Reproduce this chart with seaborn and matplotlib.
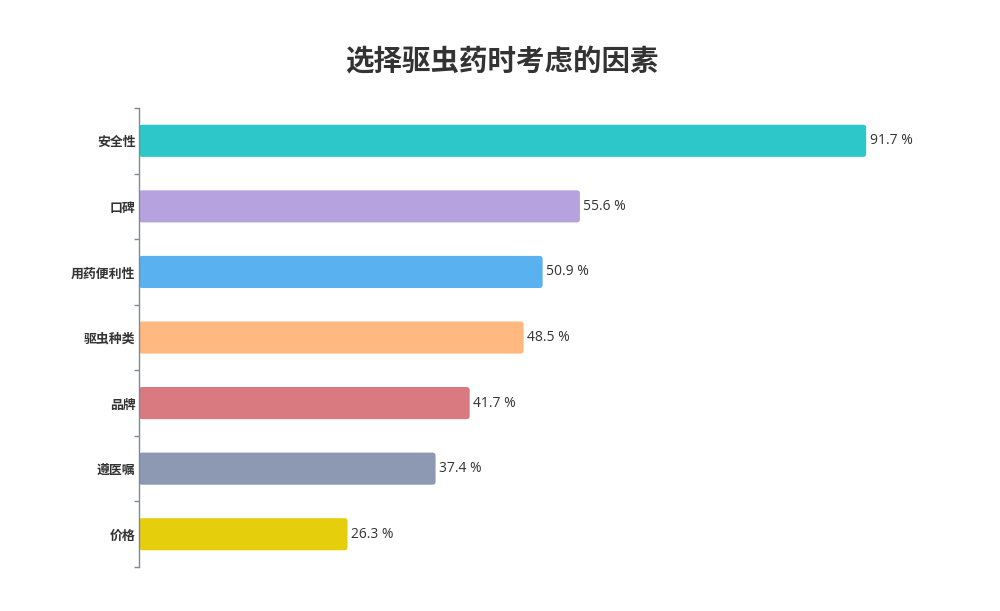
import matplotlib
matplotlib.use("Agg")
import matplotlib.pyplot as plt
import seaborn as sns
import pandas as pd
from matplotlib.patches import FancyBboxPatch

categories = ["安全性", "口碑", "用药便利性", "驱虫种类", "品牌", "遵医嘱", "价格"]
values = [91.7, 55.6, 50.9, 48.5, 41.7, 37.4, 26.3]
colors = ["#2EC7C9", "#B6A2DE", "#5AB1EF", "#FFB980", "#D87A80", "#8D98B3", "#E5CF0D"]
title = "选择驱虫药时考虑的因素"

sns.set_theme(style="white")
plt.rcParams['font.family'] = ['Noto Sans CJK SC', 'DejaVu Sans']

df = pd.DataFrame({"cat": categories, "val": values})

fig = plt.figure(figsize=(10, 6.11), dpi=100)
ax = fig.add_axes([0.139, 0.072, 0.932 - 0.139, 0.8232 - 0.072])
sns.barplot(data=df, x="val", y="cat", hue="cat", palette=colors, orient="h",
            width=0.49, legend=False, ax=ax, saturation=1)
ax.set_xlim(0, 100)
ax.set_ylim(6.5, -0.5)

# rounded bars
xpx = ax.get_position().width * 1000 / 100.0
ypx = ax.get_position().height * 611 / 7.0
aspect = xpx / ypx
for p in list(ax.patches):
    x, y = p.get_x(), p.get_y()
    w, h = p.get_width(), p.get_height()
    fc = p.get_facecolor()
    p.remove()
    fb = FancyBboxPatch((x, y), w, h, boxstyle="round,pad=0,rounding_size=0.4",
                        mutation_aspect=aspect, facecolor=fc, edgecolor="none")
    ax.add_patch(fb)

for i, v in enumerate(values):
    ax.annotate(f"{v} %", (v, i), xytext=(2.5, 0), textcoords="offset points",
                va="center", ha="left", fontsize=10, color="#333333",
                family=['Open Sans', 'DejaVu Sans'])

ax.set_xlabel("")
ax.set_ylabel("")
ax.set_xticks([])
ax.set_yticks(range(len(categories)))
ax.set_yticklabels(categories, fontsize=9.3, color="#333333", fontweight="semibold")
ax.set_yticks([i - 0.5 for i in range(len(categories) + 1)], minor=True)
ax.tick_params(axis="y", which="major", length=0, pad=2.5)
ax.tick_params(axis="y", which="minor", length=3.5, color="#7A8A99", width=1, left=True)
for s in ["top", "right", "bottom"]:
    ax.spines[s].set_visible(False)
ax.spines["left"].set_color("#7A8A99")
ax.spines["left"].set_linewidth(1)

fig.text(0.502, 1 - 62 / 611, title, ha="center", va="center", fontsize=20.5,
         fontweight="bold", color="#333333")

fig.savefig("out.png", dpi=100)
